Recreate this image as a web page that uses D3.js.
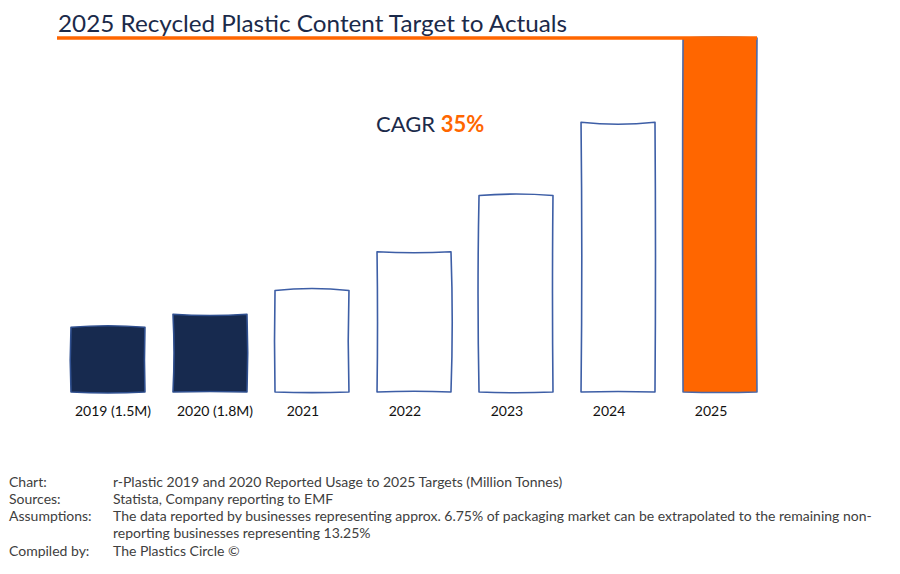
<!DOCTYPE html>
<html><head><meta charset="utf-8">
<script src="https://cdn.jsdelivr.net/npm/d3@7/dist/d3.min.js"></script>
<style>body{margin:0;background:#fff}svg{display:block}text{font-family:Lato,"Open Sans",sans-serif}</style>
</head><body><svg id="c" width="900" height="574"></svg>
<script>
const categories = ["2019 (1.5M)","2020 (1.8M)","2021","2022","2023","2024","2025"];
const values = [1.5, 1.8, 2.35, 3.25, 4.55, 6.25, 8.2];
const kinds = ["actual","actual","projected","projected","projected","projected","target"];
const footerLabels = ["Chart:","Sources:","Assumptions:","","Compiled by:"];
const footerTexts = ["r-Plastic 2019 and 2020 Reported Usage to 2025 Targets (Million Tonnes)",
  "Statista, Company reporting to EMF",
  "The data reported by businesses representing approx. 6.75% of packaging market can be extrapolated to the remaining non-",
  "reporting businesses representing 13.25%",
  "The Plastics Circle \u00a9"];

const svg = d3.select("#c");
const x = d3.scaleBand().domain(categories).range([71, 757]).paddingInner(0.275).paddingOuter(0);
const y = d3.scaleLinear().domain([0, 8.2]).range([392, 38]);

const fill = {actual:"#172a4f", projected:"#ffffff", target:"#ff6600"};
const stroke = {actual:"#2f4f8f", projected:"#3d5ea6", target:"#4a68a8"};

// title
svg.append("text").attr("x",58).attr("y",32).attr("font-size",24).attr("fill","#1b2a4a")
  .attr("textLength",509).attr("lengthAdjust","spacingAndGlyphs")
  .text("2025 Recycled Plastic Content Target to Actuals");

// wobbly bars
const wob = [[1.5,-1,2,-1.5],[-1.2,1.5,-1,2],[2,-1.5,1.2,-1],[-1,2.5,-1.5,1],[1.5,-1,1.5,-2],[-2,1,-1,1.5],[1,-1.5,1,-1]];
function sketch(x0,y0,x1,y1,w){
  const p = d3.path();
  p.moveTo(x0,y0);
  p.quadraticCurveTo((x0+x1)/2, y0 - 2*w[0], x1, y0);
  p.quadraticCurveTo(x1 + w[1], (y0+y1)/2, x1, y1);
  p.quadraticCurveTo((x0+x1)/2, y1 + w[2], x0, y1);
  p.quadraticCurveTo(x0 + w[3], (y0+y1)/2, x0, y0);
  p.closePath();
  return p.toString();
}
svg.append("g").selectAll("path").data(values).join("path")
  .attr("d",(d,i)=>sketch(x(categories[i]), y(d), x(categories[i])+x.bandwidth(), y(0), wob[i]))
  .attr("fill",(d,i)=>fill[kinds[i]])
  .attr("stroke",(d,i)=>stroke[kinds[i]])
  .attr("stroke-width",1.6).attr("stroke-linejoin","round");

// orange target line
svg.append("line").attr("x1",57).attr("x2",x(categories[6])+x.bandwidth()).attr("y1",y(8.2)).attr("y2",y(8.2))
  .attr("stroke","#ff6600").attr("stroke-width",3.5);

// category labels
svg.append("g").selectAll("text").data(categories).join("text")
  .attr("x",d=>x(d)+x.bandwidth()/2 + (d.length>4?5:-9)).attr("y",416)
  .attr("text-anchor","middle").attr("font-size",14).attr("fill","#111").text(d=>d);

// CAGR
const cg = svg.append("text").attr("x",376).attr("y",132).attr("font-size",22);
cg.append("tspan").attr("fill","#1b2a4a").text("CAGR ");
cg.append("tspan").attr("fill","#ff6600").attr("font-weight","bold").text("35%");

// footer
const fy = [487,504,521,538,556];
const ft = svg.append("g").attr("font-size",14).attr("fill","#404040");
footerLabels.forEach((t,i)=>{ if(t) ft.append("text").attr("x",9).attr("y",fy[i]).text(t); });
footerTexts.forEach((t,i)=>ft.append("text").attr("x",113).attr("y",fy[i]).text(t));
</script></body></html>
